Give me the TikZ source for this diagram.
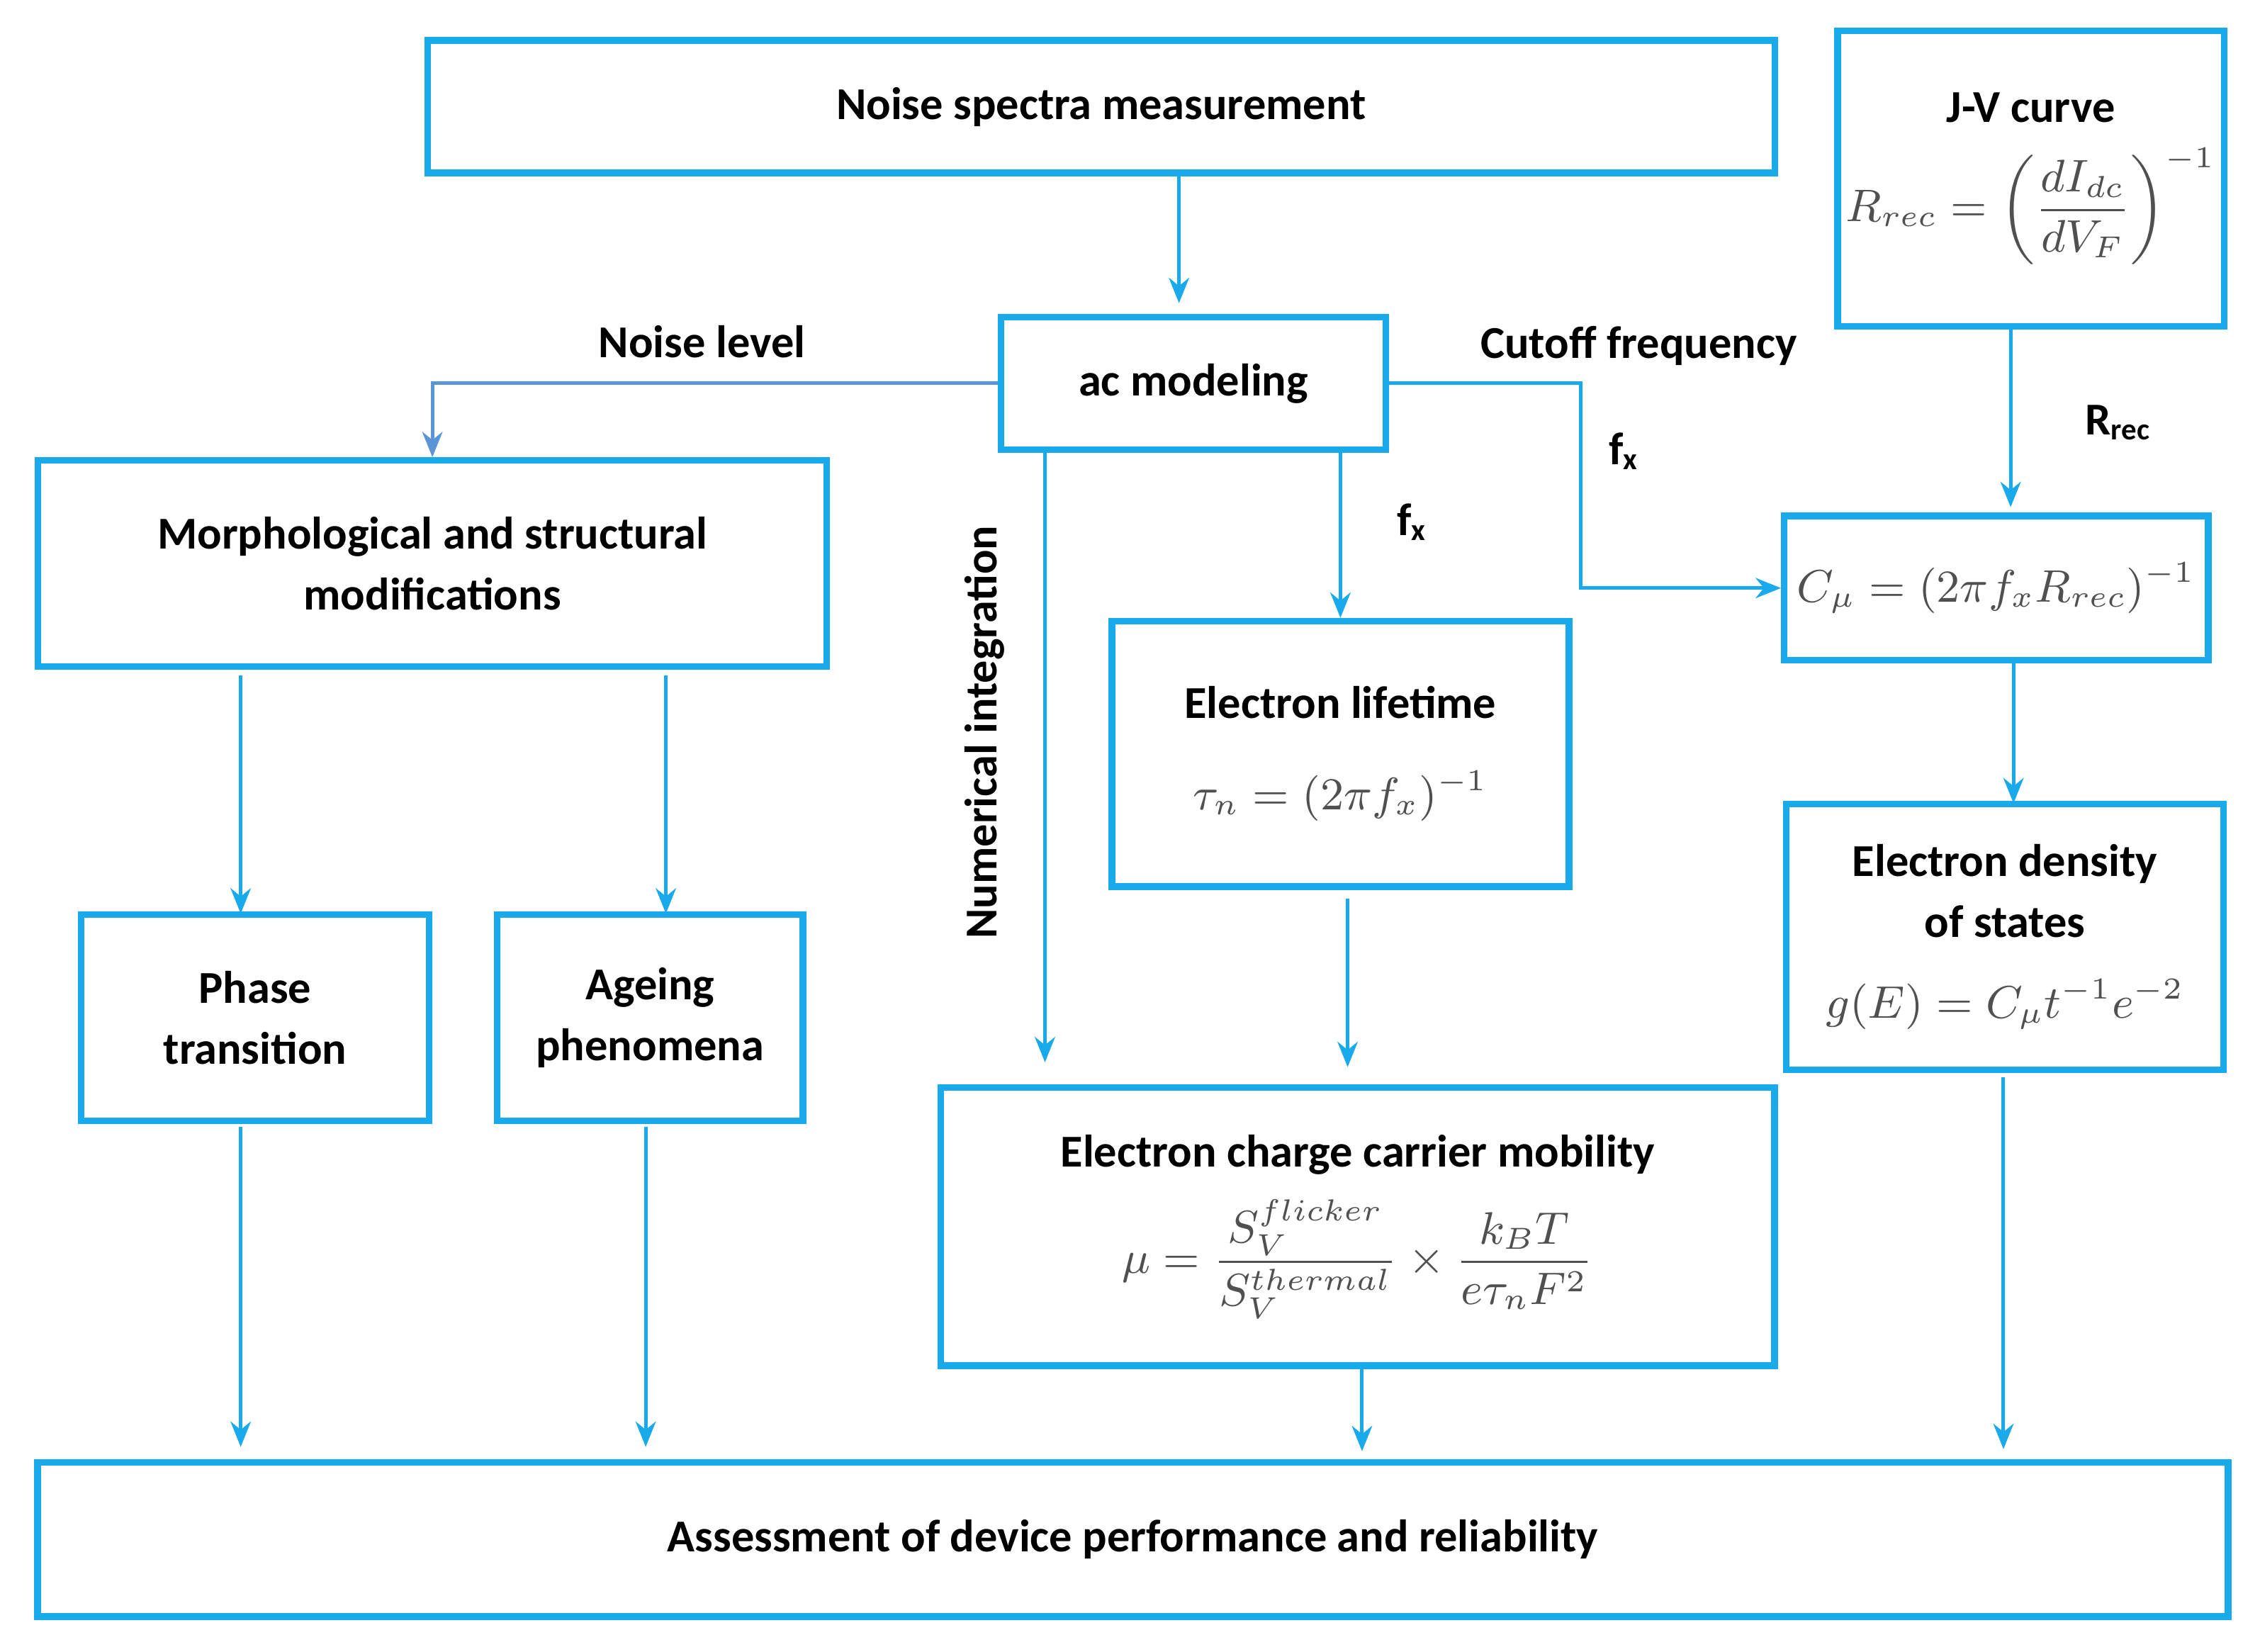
\documentclass[tikz,border=0pt]{standalone}
\usepackage{amsmath}
\usepackage{fontspec}
\setmainfont{Carlito}
\usetikzlibrary{arrows.meta}
\definecolor{boxblue}{RGB}{25,170,235}
\definecolor{paleblue}{RGB}{90,150,215}
\definecolor{mathgrey}{RGB}{80,80,80}

\begin{document}
\begin{tikzpicture}[x=0.01cm, y=-0.01cm,
        box/.style={draw=boxblue, line width=1.3pt, align=center, font=\fontsize{9}{12}\selectfont\bfseries, inner sep=0pt},
        arr/.style={-{Stealth[length=5pt,width=4pt]}, draw=boxblue, line width=0.7pt},
        lbl/.style={font=\fontsize{9}{12}\selectfont\bfseries}]
        \useasboundingbox (0,0) rectangle (1568,1146);
        \node[box, minimum width=9.34cm, minimum height=0.92cm] (noise) at (764,74) {Noise spectra measurement};
        \node[box, minimum width=2.68cm, minimum height=2.05cm] (jv) at (1409,124) {J-V curve\\[4pt] \color{mathgrey}\mdseries $R_{rec}=\left(\dfrac{dI_{dc}}{dV_F}\right)^{-1}$};
        \node[box, minimum width=2.67cm, minimum height=0.92cm] (ac) at (828,266) {ac modeling};
        \node[box, minimum width=5.47cm, minimum height=1.43cm] (morph) at (300,391) {Morphological and structural\\modifications};
        \node[box, minimum width=2.94cm, minimum height=1.00cm] (cmu) at (1385,408) {\color{mathgrey}\mdseries $C_\mu=(2\pi f_x R_{rec})^{-1}$};
        \node[box, minimum width=3.17cm, minimum height=1.84cm] (elife) at (930,523) {Electron lifetime\\[6pt] \color{mathgrey}\mdseries $\tau_n=(2\pi f_x)^{-1}$};
        \node[box, minimum width=2.41cm, minimum height=1.43cm] (phase) at (177,706) {Phase\\transition};
        \node[box, minimum width=2.12cm, minimum height=1.43cm] (ageing) at (451,706) {Ageing\\phenomena};
        \node[box, minimum width=3.03cm, minimum height=1.84cm] (dens) at (1391,650) {Electron density\\of states\\[4pt] \color{mathgrey}\mdseries $g(E)=C_\mu t^{-1}e^{-2}$};
        \node[box, minimum width=5.78cm, minimum height=1.93cm] (mob) at (942,851) {Electron charge carrier mobility\\[4pt] \color{mathgrey}\mdseries $\mu=\dfrac{S_V^{flicker}}{S_V^{thermal}}\times\dfrac{k_BT}{e\tau_nF^2}$};
        \node[box, minimum width=15.19cm, minimum height=1.07cm] (assess) at (786,1068) {Assessment of device performance and reliability};
        % connectors
        \coordinate (nitop) at (725,312);
        \coordinate (nibot) at (725,737);
        \draw[arr] (noise.south -| ac.north) ++(-10,0) -- ++(0,88);
        \draw[arr, draw=paleblue] (ac.west) -| (morph.north);
        \draw[arr] (ac.east) -- ++(133,0) |- (cmu.west);
        \draw[arr] (jv.south) ++(-14,0) -- ++(0,123);
        \draw[arr] (ac.south -| elife.north) -- (elife.north);
        \draw[arr] (nitop) -- (nibot);
        \draw[arr] (elife.south) ++(5,6) -- ++(0,117);
        \draw[arr] (cmu.south) ++(12,0) -- ++(0,97);
        \draw[arr] (morph.south) ++(-133,4) -- ++(0,165);
        \draw[arr] (morph.south) ++(162,4) -- ++(0,165);
        \draw[arr] (phase.south) ++(-10,2) -- ++(0,222);
        \draw[arr] (ageing.south) ++(-3,2) -- ++(0,222);
        \draw[arr] (mob.south) ++(3,0) -- ++(0,57);
        \draw[arr] (dens.south) ++(-1,3) -- ++(0,258);
        % labels
        \node[lbl] (noiselvl) at (487,237) {Noise level};
        \node[lbl] (cutoff) at (1137,240) {Cutoff frequency};
        \node[lbl] (fxa) at (1127,313) {f\textsubscript{x}};
        \node[lbl] (fxb) at (980,362) {f\textsubscript{x}};
        \node[lbl] (rrec) at (1470,293) {R\textsubscript{rec}};
        \node[lbl, rotate=90] (numint) at (683,508) {Numerical integration};
\end{tikzpicture}
\end{document}
